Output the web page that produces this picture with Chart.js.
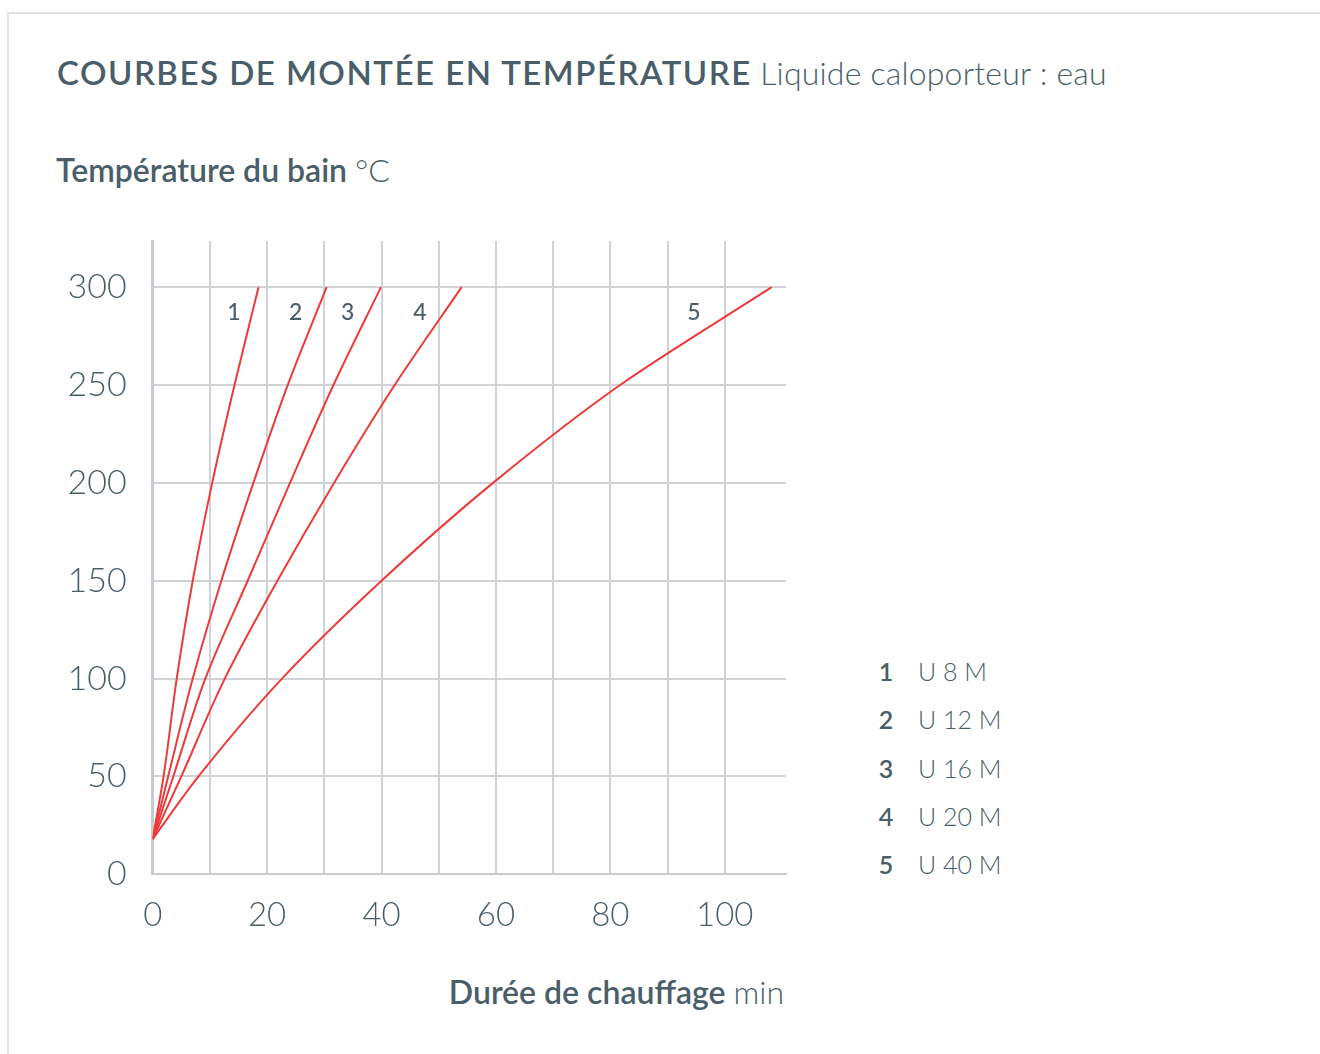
<!DOCTYPE html>
<html>
<head>
<meta charset="utf-8">
<script src="https://cdn.jsdelivr.net/npm/chart.js@4/dist/chart.umd.min.js"></script>
<style>
  html, body { margin:0; padding:0; background:#fff; }
  body { width:1320px; height:1054px; position:relative; overflow:hidden; font-family:Lato, "Open Sans", sans-serif; color:#4a5e6a; }
  .frame { position:absolute; left:7px; top:12px; width:1330px; height:1060px; border-left:2px solid #e2e2e2; border-top:2px solid #e2e2e2; }
  .title { position:absolute; left:57px; top:52px; font-size:33px; white-space:nowrap; }
  .title b { font-weight:600; letter-spacing:1.5px; }
  .title span { font-weight:300; font-size:32px; letter-spacing:0.2px; }
  .ylab { position:absolute; left:56px; top:150px; font-size:32px; font-weight:600; white-space:nowrap; }
  .ylab span, .xlab span { font-weight:300; }
  .xlab { position:absolute; right:536px; top:972px; font-size:32px; font-weight:600; white-space:nowrap; }
  canvas { position:absolute; left:0; top:0; }
  .legend { position:absolute; left:876px; top:656px; font-size:25px; }
  .legend div { height:48.3px; white-space:nowrap; }
  .legend b { display:inline-block; width:20px; text-align:center; font-weight:600; }
  .legend span { font-weight:300; margin-left:22px; }
</style>
</head>
<body>
<div class="frame"></div>
<div class="title"><b>COURBES DE MONTÉE EN TEMPÉRATURE</b> <span>Liquide caloporteur : eau</span></div>
<div class="ylab">Température du bain <span>°C</span></div>
<div class="xlab">Durée de chauffage <span>min</span></div>
<div class="legend" id="legend"></div>
<canvas id="chart" width="1320" height="1054"></canvas>
<script>
// ── Data (time in min at each temperature) ──
const temps   = [18, 50, 100, 150, 200, 250, 300];
const curve1  = [0, 1.9, 4.2, 7.0, 10.4, 14.3, 18.5];
const curve2  = [0, 2.7, 7.0, 12.0, 17.6, 23.6, 30.4];
const curve3  = [0, 3.6, 9.2, 16.6, 24.0, 31.6, 39.9];
const curve4  = [0, 5.0, 12.6, 21.8, 31.7, 42.3, 54.0];
const curve5  = [0, 8.0, 22.6, 40.0, 59.5, 81.7, 108.2];
const curveNames  = ['1', '2', '3', '4', '5'];
const modelNames  = ['U 8 M', 'U 12 M', 'U 16 M', 'U 20 M', 'U 40 M'];
const labelX      = [14.2, 25.0, 34.1, 46.7, 94.6];
const labelTemp   = 287;
const xTicks = [0, 10, 20, 30, 40, 50, 60, 70, 80, 90, 100];
const yTicks = [0, 50, 100, 150, 200, 250, 300];

const INK = '#4a5e6a', GRID = '#cfd3d6', RED = '#ee3a3a';

document.getElementById('legend').innerHTML = curveNames
    .map((n,i) => `<div><b>${n}</b><span>${modelNames[i]}</span></div>`).join('');

function toPoints(xs) { return xs.map((x,i) => ({ x:x, y:temps[i] })); }

const curveLabels = {
    id: 'curveLabels',
    afterDatasetsDraw(chart) {
        const { ctx, scales:{ x, y } } = chart;
        ctx.save();
        ctx.fillStyle = INK;
        ctx.font = '500 23px Lato, sans-serif';
        ctx.textAlign = 'center'; ctx.textBaseline = 'middle';
        curveNames.forEach((n,i) => ctx.fillText(n, x.getPixelForValue(labelX[i]), y.getPixelForValue(labelTemp)));
        ctx.restore();
    }
};

new Chart(document.getElementById('chart').getContext('2d'), {
    type: 'scatter',
    data: {
        datasets: [curve1, curve2, curve3, curve4, curve5].map((c,i) => ({
            label: curveNames[i], data: toPoints(c), showLine: true,
            indexAxis: 'y', cubicInterpolationMode: 'monotone',
            borderColor: RED, borderWidth: 2, pointRadius: 0
        }))
    },
    options: {
        responsive: false, animation: false,
        layout: { padding: { left: 40, top: 241, right: 534, bottom: 119.7 } },
        plugins: { legend: { display:false }, tooltip: { enabled:false } },
        scales: {
            x: {
                type: 'linear', min: 0, max: 110.7,
                afterBuildTicks: (s) => { s.ticks = xTicks.map(v => ({ value:v })); },
                afterFit: (s) => { s.height = 60; },
                grid: { color: GRID, lineWidth: 2, drawTicks: false },
                border: { color: '#c6cbcf', width: 2 },
                ticks: { padding: 21, color: INK, font: { family:'Lato', size:33, weight:'300' },
                         maxRotation: 0, callback: (v) => v % 20 === 0 ? v : '' }
            },
            y: {
                type: 'linear', min: 0, max: 323.6,
                afterBuildTicks: (s) => { s.ticks = yTicks.map(v => ({ value:v })); },
                afterFit: (s) => { s.width = 112.7; },
                grid: { color: GRID, lineWidth: 2, drawTicks: false },
                border: { color: '#c6cbcf', width: 3 },
                ticks: { padding: 26, color: INK, font: { family:'Lato', size:34, weight:'300' } }
            }
        }
    },
    plugins: [curveLabels]
});
</script>
</body>
</html>
